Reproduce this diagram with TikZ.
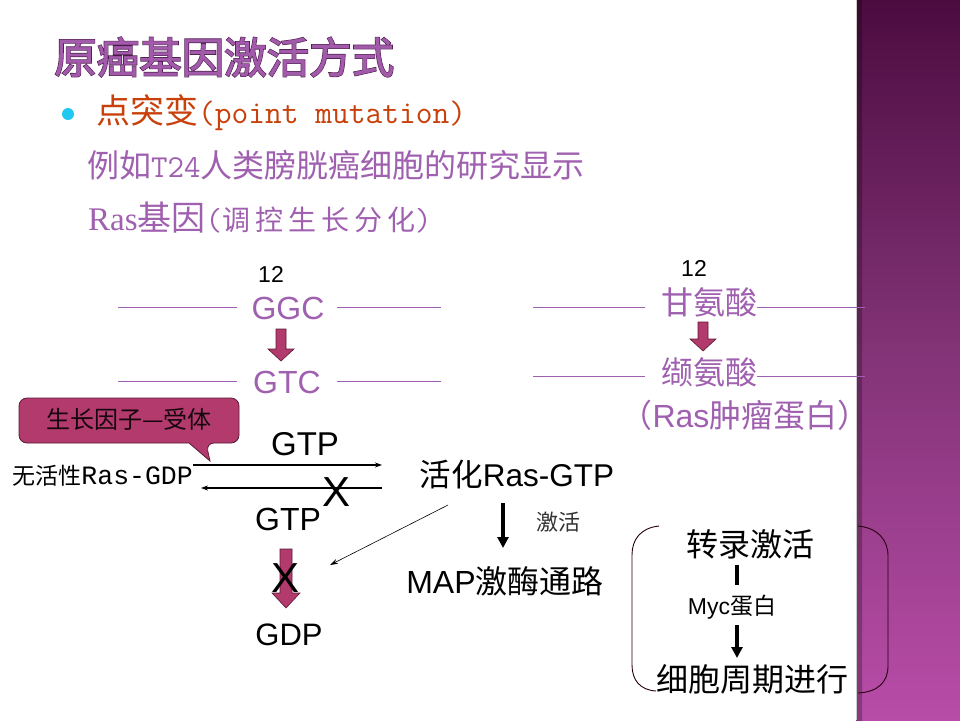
\documentclass[tikz,border=0pt]{standalone}
\usepackage{fontspec}
\setmainfont{Liberation Sans}
\newfontfamily\cjk{Noto Sans CJK SC}
\newfontfamily\cjkbold[FakeBold=4]{Noto Sans CJK SC}
\newfontfamily\cjkmid[FakeBold=1.2]{Noto Sans CJK SC}
\newfontfamily\arial{Liberation Sans}
\newfontfamily\mono{Liberation Mono}
\newfontfamily\lmmono{Latin Modern Mono}
\newfontfamily\serif{Liberation Serif}
\usetikzlibrary{arrows.meta}
\definecolor{titlefill}{HTML}{A25AAA}
\definecolor{titleline}{HTML}{4A1A4A}
\definecolor{orange}{HTML}{C8400A}
\definecolor{lilac}{HTML}{A060B0}
\definecolor{crimson}{HTML}{B23A6C}
\definecolor{crimsonline}{HTML}{5A1A35}
\definecolor{sidetop}{HTML}{4C0C40}
\definecolor{sidemid}{HTML}{843478}
\definecolor{sidebot}{HTML}{B84CA8}
\definecolor{bullet}{HTML}{1EC8F0}
\tikzset{
  txt/.style={inner sep=0pt, anchor=center},
  dnaline/.style={draw=lilac, line width=0.8pt},
  blockarrow/.style={fill=crimson, draw=crimsonline, line width=0.6pt},
  thinarrow/.style={draw=black, line width=1.4pt, -{Stealth[length=7pt,width=5pt]}},
  thickarrow/.style={draw=black, line width=3.2pt, -{Triangle[length=11pt,width=11pt]}},
  bracket/.style={draw=black!80!purple, line width=0.9pt},
}
\begin{document}
\begin{tikzpicture}[x=1pt,y=-1pt]
\useasboundingbox (0,0) rectangle (960,720);
\fill[white] (0,0) rectangle (960,720);
% sidebar
\shade[top color=sidetop, bottom color=sidebot, middle color=sidemid] (856,0) rectangle (960,720);
\shade[left color=black, right color=black, opacity=0.25] (856,0) rectangle (862,720);
\draw[gray!40, line width=0.8pt] (856,0) -- (856,720);

% title
\node[txt, anchor=west, text=titleline, font=\cjkbold\fontsize{42.5}{42.5}\selectfont] (title0) at (54,57) {原癌基因激活方式};
\node[txt, anchor=west, text=titlefill, font=\cjkmid\fontsize{42.5}{42.5}\selectfont] (title) at (54,57) {原癌基因激活方式};

% bullet line
\fill[bullet] (68,114) circle (6);
\node[txt, anchor=west, text=orange, font=\fontsize{34}{34}\selectfont] (pm) at (96,113) {{\cjk 点突变}{\lmmono\fontsize{32.5}{32.5}\selectfont(point mutation)}};
\node[txt, anchor=west, text=lilac, font=\fontsize{32}{32}\selectfont] (ex) at (87,165) {{\cjk 例如}{\lmmono T24}{\cjk 人类膀胱癌细胞的研究显示}};
\node[txt, anchor=west, text=lilac, font=\fontsize{33}{33}\selectfont] (ras) at (88,218) {{\serif Ras}{\cjk\fontsize{34}{34}\selectfont 基因}{\lmmono\fontsize{32}{32}\selectfont(}{\cjk\fontsize{28}{28}\selectfont 调\hspace{5pt}控\hspace{5pt}生\hspace{5pt}长\hspace{5pt}分\hspace{5pt}化}{\lmmono\fontsize{32}{32}\selectfont)}};

% left DNA
\node[txt, font=\arial\fontsize{23}{23}\selectfont] (n12a) at (271,274) {12};
\node[txt, text=lilac, font=\arial\fontsize{32}{32}\selectfont] (ggc) at (288,308) {GGC};
\node[txt, text=lilac, font=\arial\fontsize{32}{32}\selectfont] (gtc) at (287,382) {GTC};
\draw[dnaline] (118,307) -- (237,307);
\draw[dnaline] (337,307) -- (441,307);
\draw[dnaline] (118,381) -- (237,381);
\draw[dnaline] (337,381) -- (441,381);
\path[blockarrow] (276,329) -- (286,329) -- (286,349) -- (294,349) -- (281,361) -- (268,349) -- (276,349) -- cycle;

% right DNA
\node[txt, font=\arial\fontsize{23}{23}\selectfont] (n12b) at (694,268) {12};
\node[txt, text=lilac, font=\cjk\fontsize{32}{32}\selectfont] (gly) at (709,302) {甘氨酸};
\node[txt, text=lilac, font=\cjk\fontsize{32}{32}\selectfont] (val) at (709,372) {缬氨酸};
\node[txt, text=lilac, font=\fontsize{32}{32}\selectfont] (rasprot) at (745,415) {{\cjk （}Ras{\cjk 肿瘤蛋白）}};
\draw[dnaline] (533,307) -- (645,307);
\draw[dnaline] (757,307) -- (865,307);
\draw[dnaline] (533,376) -- (645,376);
\draw[dnaline] (757,376) -- (865,376);
\path[blockarrow] (698,322) -- (708,322) -- (708,339) -- (716,339) -- (703,351) -- (690,339) -- (698,339) -- cycle;

% callout
\path[fill=crimson, draw=crimsonline, line width=0.8pt]
  (19,420) [rounded corners=8] |- (239,398) |- (206,443) [sharp corners] -- (210,461) -- (189,443) [rounded corners=8] -| (19,420) [sharp corners] -- cycle;
\node[txt, text=black!75!crimsonline, font=\cjk\fontsize{24}{24}\selectfont] (gf) at (129,419) {生长因子—受体};

% GTP cycle
\node[txt, font=\arial\fontsize{33}{33}\selectfont] (gtp1) at (305,444) {GTP};
\node[txt, anchor=east, font=\fontsize{23}{23}\selectfont] (inact) at (193,476) {{\cjk 无活性}{\mono\fontsize{26.5}{26.5}\selectfont Ras-GDP}};
\coordinate (r1) at (382,465);
\coordinate (l2) at (382,488);
\draw[thinarrow] (inact.east |- r1) -- (r1);
\draw[thinarrow] (l2) -- (201,488);
\node[txt, font=\arial\fontsize{42}{42}\selectfont] (x1) at (337,492) {X};
\node[txt, font=\arial\fontsize{32}{32}\selectfont] (gtp2) at (288,519) {GTP};
\path[blockarrow] (280,549) -- (292,549) -- (292,593) -- (300,593) -- (286,608) -- (272,593) -- (280,593) -- cycle;
\node[txt, font=\arial\fontsize{42}{42}\selectfont] (x2) at (286,578) {X};
\node[txt, font=\arial\fontsize{31}{31}\selectfont] (gdp) at (289,635) {GDP};

\node[txt, font=\fontsize{31.5}{31.5}\selectfont] (act) at (517,475) {{\cjk 活化}Ras-GTP};
\coordinate (dst) at (330,565);
\draw[line width=0.6pt, -{Stealth[length=8pt,width=5pt]}] (448,505) -- (dst);
\draw[thickarrow] (503,503) -- (503,548);
\node[txt, font=\cjk\fontsize{22}{22}\selectfont, text=black!80] (jh) at (558,522) {激活};
\node[txt, font=\fontsize{32}{32}\selectfont] (map) at (505,581) {MAP{\cjk 激酶通路}};

% right pathway
\node[txt, font=\cjk\fontsize{32}{32}\selectfont] (tr) at (750,544) {转录激活};
\draw[line width=3.2pt] (737,565) -- (737,585);
\node[txt, font=\fontsize{23}{23}\selectfont] (myc) at (732,607) {Myc{\cjk 蛋白}};
\draw[thickarrow] (737,625) -- (737,658);
\node[txt, font=\cjk\fontsize{32}{32}\selectfont] (cc) at (752,679) {细胞周期进行};

% brackets
\draw[bracket] (659,526) .. controls (640,528) and (632,540) .. (632,555) -- (632,665) .. controls (632,680) and (640,690) .. (656,691);
\draw[bracket] (858,526) .. controls (878,528) and (888,540) .. (888,556) -- (888,666) .. controls (888,682) and (878,692) .. (858,693);
\end{tikzpicture}
\end{document}
